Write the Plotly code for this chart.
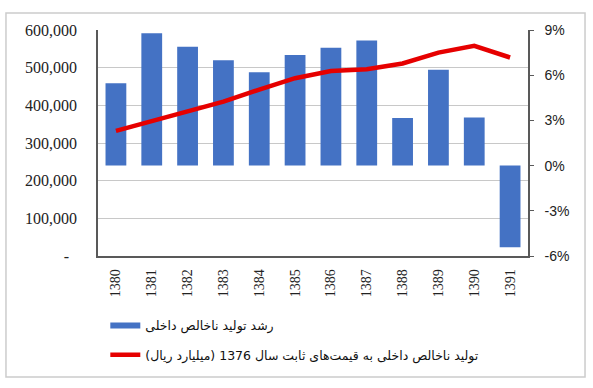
import plotly.graph_objects as go

years = ["1380", "1381", "1382", "1383", "1384", "1385",
         "1386", "1387", "1388", "1389", "1390", "1391"]
growth_pct = [5.46, 8.78, 7.89, 6.99, 6.19, 7.34, 7.83, 8.31, 3.16, 6.37, 3.20, -5.42]
gdp_constant = [332000, 357000, 383000, 410000, 442000, 472000,
                491000, 496000, 511000, 540000, 558000, 527000]

gdp_ticks = [0, 100000, 200000, 300000, 400000, 500000, 600000]
gdp_ticktext = ["-\u00a0\u00a0", "100,000", "200,000", "300,000", "400,000", "500,000", "600,000"]
pct_ticks = [-6, -3, 0, 3, 6, 9]
pct_ticktext = ["-6%", "-3%", "0%", "3%", "6%", "9%"]

name_growth = "\u200fرشد تولید ناخالص داخلی\u200f"
name_gdp = "\u200fتولید ناخالص داخلی به قیمت‌های ثابت سال 1376 (میلیارد ریال)\u200f"

bar_color = "#4472C4"
line_color = "#E60000"
serif = "Liberation Serif, Times New Roman, serif"

fig = go.Figure()

fig.add_trace(go.Bar(
    x=years, y=growth_pct, yaxis="y", marker=dict(color=bar_color, line=dict(width=0)),
    showlegend=False, name=name_growth))

# legend proxy for bars
fig.add_trace(go.Scatter(
    x=[None], y=[None], yaxis="y", mode="lines", line=dict(color=bar_color, width=6),
    name=name_growth, legendgroup="a"))

fig.add_trace(go.Scatter(
    x=years, y=gdp_constant, yaxis="y2", mode="lines",
    line=dict(color=line_color, width=4.5), name=name_gdp, legendgroup="b"))

fig.update_layout(
    width=593, height=388,
    margin=dict(l=98, r=65, t=30, b=132),
    paper_bgcolor="white", plot_bgcolor="white",
    bargap=0.42,
    xaxis=dict(
        type="category", tickangle=-90, showline=True, linecolor="#595959", linewidth=1.5,
        ticks="", tickfont=dict(family=serif, size=14, color="#222"),
        showgrid=False, zeroline=False, ticklabelstandoff=6),
    yaxis=dict(
        side="right", range=[-6, 9], tickvals=pct_ticks, ticktext=pct_ticktext,
        showline=True, linecolor="#595959", linewidth=1.5, ticks="outside", ticklen=4,
        tickcolor="#595959", showgrid=False, zeroline=False,
        tickfont=dict(family="Liberation Sans, Arial, sans-serif", size=14, color="#222"),
        ticklabelstandoff=8),
    yaxis2=dict(
        overlaying="y", side="left", range=[0, 600000], tickvals=gdp_ticks,
        ticktext=gdp_ticktext, showline=True, linecolor="#595959", linewidth=1.5,
        showgrid=True, gridcolor="#c8c8c8", gridwidth=1, zeroline=False, ticks="",
        tickfont=dict(family=serif, size=16, color="#222"),
        ticklabelstandoff=16),
    legend=dict(
        x=0.017, y=-0.243, xanchor="left", yanchor="top", orientation="v",
        traceorder="grouped", tracegroupgap=10,
        font=dict(family="DejaVu Sans", size=12.5, color="#111"),
        bgcolor="rgba(0,0,0,0)"),
    shapes=[dict(type="rect", xref="paper", yref="paper",
                 x0=-0.214, x1=1.1326, y0=-0.535, y1=1.075,
                 line=dict(color="#cccccc", width=1.5), layer="below")],
)

fig.write_html("out.html", config={"displayModeBar": False},
               post_script="document.body.style.margin='0';")
